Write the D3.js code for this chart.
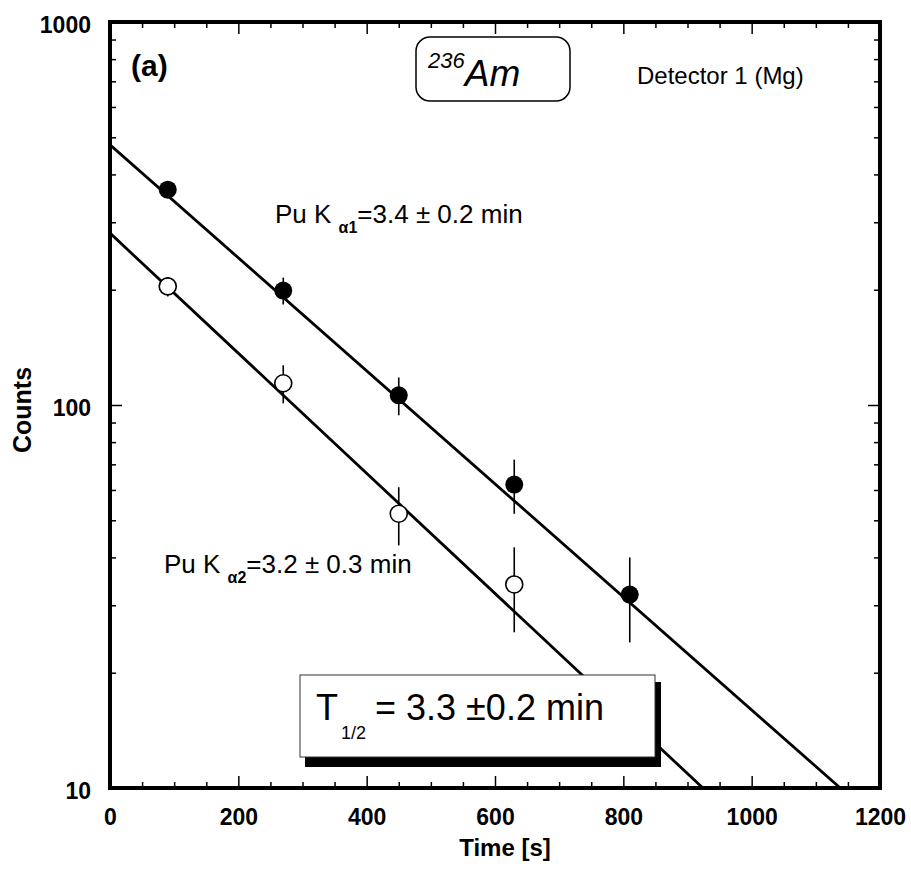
<!DOCTYPE html>
<html>
<head>
<meta charset="utf-8">
<script src="https://cdn.jsdelivr.net/npm/d3@7"></script>
<style>
  html, body { margin: 0; padding: 0; background: #fff; }
  svg { display: block; }
  text { font-family: "Liberation Sans", Arial, Helvetica, sans-serif; fill: #000; }
</style>
</head>
<body>
<svg id="chart" width="911" height="875"></svg>
<script>
// Measured decay counts, Kα1 (filled) and Kα2 (open)
const times = [90, 270, 450, 630, 810];
const countsK1 = [365, 199, 106, 62, 32];
const errK1 = [14, 16, 12, 10, 8];
const timesK2 = [90, 270, 450, 630];
const countsK2 = [204, 114, 52, 34];
const errK2 = [12, 13, 9, 8.5];

// Exponential fits: initial counts and half-life in minutes
const fitN0 = [478, 281];
const fitHalfLife = [3.4, 3.2];

const xTicks = [0, 200, 400, 600, 800, 1000, 1200];
const yTicks = [10, 100, 1000];

const svg = d3.select("#chart");
const x = d3.scaleLinear().domain([0, 1200]).range([110, 880]);
const y = d3.scaleLog().domain([10, 1000]).range([788, 22]);

const xMinor = d3.range(0, 1201, 50).filter(v => v % 200 !== 0);
const yMinor = [];
[10, 100].forEach(d => { for (let k = 2; k <= 9; k++) yMinor.push(d * k); });

// clip region for plot contents
svg.append("defs").append("clipPath").attr("id", "plot")
  .append("rect").attr("x", x(0)).attr("y", y(1000))
  .attr("width", x(1200) - x(0)).attr("height", y(10) - y(1000));

// axes with inward ticks
function styleAxis(g) {
  g.select(".domain").remove();
  g.selectAll(".tick line").attr("stroke", "#000").attr("stroke-width", 1.5);
}
const bottom = svg.append("g").attr("transform", `translate(0,${y(10)})`)
  .call(d3.axisBottom(x).tickValues(xTicks).tickSize(-12).tickPadding(21).tickFormat(d3.format("d")))
  .call(styleAxis);
bottom.selectAll(".tick text").attr("font-size", 23).attr("font-weight", "bold");
svg.append("g").attr("transform", `translate(0,${y(10)})`)
  .call(d3.axisBottom(x).tickValues(xMinor).tickSize(-6).tickFormat(""))
  .call(styleAxis);
svg.append("g").attr("transform", `translate(0,${y(1000)})`)
  .call(d3.axisTop(x).tickValues(xTicks).tickSize(-12).tickFormat(""))
  .call(styleAxis);
svg.append("g").attr("transform", `translate(0,${y(1000)})`)
  .call(d3.axisTop(x).tickValues(xMinor).tickSize(-6).tickFormat(""))
  .call(styleAxis);

const left = svg.append("g").attr("transform", `translate(${x(0)},0)`)
  .call(d3.axisLeft(y).tickValues(yTicks).tickSize(-12).tickPadding(19).tickFormat(d3.format("d")))
  .call(styleAxis);
left.selectAll(".tick text").attr("font-size", 23).attr("font-weight", "bold").attr("dy", "0.45em");
svg.append("g").attr("transform", `translate(${x(0)},0)`)
  .call(d3.axisLeft(y).tickValues(yMinor).tickSize(-6).tickFormat(""))
  .call(styleAxis);
svg.append("g").attr("transform", `translate(${x(1200)},0)`)
  .call(d3.axisRight(y).tickValues(yTicks).tickSize(-12).tickFormat(""))
  .call(styleAxis);
svg.append("g").attr("transform", `translate(${x(1200)},0)`)
  .call(d3.axisRight(y).tickValues(yMinor).tickSize(-6).tickFormat(""))
  .call(styleAxis);

// frame
svg.append("rect").attr("x", x(0)).attr("y", y(1000))
  .attr("width", x(1200) - x(0)).attr("height", y(10) - y(1000))
  .attr("fill", "none").attr("stroke", "#000").attr("stroke-width", 4);

const plot = svg.append("g").attr("clip-path", "url(#plot)");

// fit lines N(t) = N0 * 2^(-t / T)
fitN0.forEach((n0, i) => {
  const T = fitHalfLife[i] * 60;
  const tEnd = T * Math.log2(n0 / 10);
  const pts = [[0, n0], [tEnd, 10]];
  plot.append("path")
    .attr("d", d3.line().x(d => x(d[0])).y(d => y(d[1]))(pts))
    .attr("stroke", "#000").attr("stroke-width", 2.8).attr("fill", "none");
});

// error bars
function errorBars(ts, vs, es) {
  plot.selectAll(null).data(ts).enter().append("line")
    .attr("x1", d => x(d)).attr("x2", d => x(d))
    .attr("y1", (d, i) => y(vs[i] + es[i])).attr("y2", (d, i) => y(vs[i] - es[i]))
    .attr("stroke", "#000").attr("stroke-width", 1.6);
}
errorBars(times, countsK1, errK1);
errorBars(timesK2, countsK2, errK2);

plot.selectAll(null).data(times).enter().append("circle")
  .attr("cx", d => x(d)).attr("cy", (d, i) => y(countsK1[i])).attr("r", 9)
  .attr("fill", "#000");
plot.selectAll(null).data(timesK2).enter().append("circle")
  .attr("cx", d => x(d)).attr("cy", (d, i) => y(countsK2[i])).attr("r", 8.5)
  .attr("fill", "#fff").attr("stroke", "#000").attr("stroke-width", 1.6);

// axis titles
svg.append("text").attr("x", 505).attr("y", 856).attr("text-anchor", "middle")
  .attr("font-size", 24).attr("font-weight", "bold").text("Time [s]");
svg.append("text").attr("transform", "translate(31,410) rotate(-90)").attr("text-anchor", "middle")
  .attr("font-size", 25).attr("font-weight", "bold").text("Counts");

// panel label
svg.append("text").attr("x", 131).attr("y", 76).attr("font-size", 30).attr("font-weight", "bold").text("(a)");

// isotope box
svg.append("rect").attr("x", 416).attr("y", 37).attr("width", 154).attr("height", 64).attr("rx", 14)
  .attr("fill", "#fff").attr("stroke", "#000").attr("stroke-width", 1.5);
const iso = svg.append("text").attr("x", 428).attr("y", 86).attr("font-style", "italic");
iso.append("tspan").attr("font-size", 22).attr("dy", -18).text("236");
iso.append("tspan").attr("font-size", 37).attr("dy", 18).text("Am");

svg.append("text").attr("x", 637).attr("y", 84).attr("font-size", 24).text("Detector 1 (Mg)");

// half-life labels
function puLabel(px, py, sub, rest) {
  const t = svg.append("text").attr("x", px).attr("y", py).attr("font-size", 26);
  t.append("tspan").text("Pu K ");
  t.append("tspan").attr("font-size", 16).attr("font-weight", "bold").attr("dy", 10).text(sub);
  t.append("tspan").attr("dy", -10).text(rest);
}
puLabel(275, 223, "α1", "=" + fitHalfLife[0].toFixed(1) + " ± 0.2 min");
puLabel(164, 573, "α2", "=" + fitHalfLife[1].toFixed(1) + " ± 0.3 min");

// combined half-life box with drop shadow
svg.append("rect").attr("x", 305).attr("y", 682).attr("width", 356).attr("height", 85).attr("fill", "#000");
svg.append("rect").attr("x", 300).attr("y", 675).attr("width", 355).attr("height", 82)
  .attr("fill", "#fff").attr("stroke", "#333").attr("stroke-width", 1);
const th = svg.append("text").attr("x", 316).attr("y", 720).attr("font-size", 36);
th.append("tspan").text("T");
th.append("tspan").attr("font-size", 18).attr("dy", 19).attr("dx", 3).text("1/2");
th.append("tspan").attr("dy", -19).attr("dx", 9).text("= 3.3 ±0.2 min");
</script>
</body>
</html>
